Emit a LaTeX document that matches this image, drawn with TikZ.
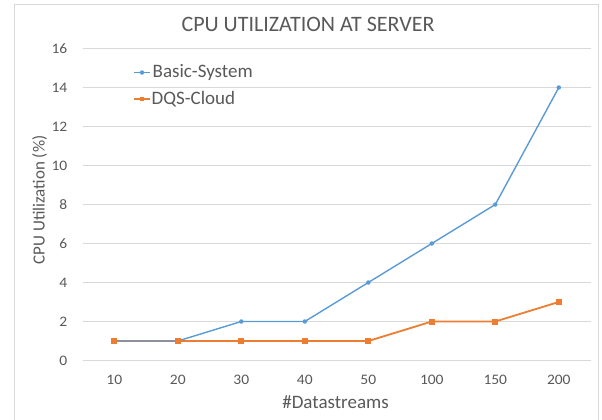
\documentclass[tikz,border=0pt]{standalone}
\usepackage{fontspec}
\setmainfont{Carlito}
\newfontfamily\tickfont[FakeStretch=1.07]{Carlito}
\definecolor{txt}{HTML}{595959}
\definecolor{grid}{HTML}{D9D9D9}
\definecolor{sblue}{HTML}{5B9BD5}
\definecolor{sorange}{HTML}{ED7D31}
\begin{document}
\begin{tikzpicture}[x=1pt,y=-1pt,
  tick/.style={text=txt,font=\tickfont\fontsize{14.5}{16}\selectfont,inner sep=0pt},
  lab/.style={text=txt,inner sep=0pt},
  gridline/.style={draw=grid,line width=1pt},
  bline/.style={draw=sblue,line width=1.4pt},
  oline/.style={draw=sorange,line width=1.8pt},
  bmark/.style={circle,fill=sblue,inner sep=0pt,minimum size=4.5pt},
  omark/.style={rectangle,fill=sorange,inner sep=0pt,minimum size=6pt}]
\useasboundingbox (0,0) rectangle (602,420);
\draw[grid,line width=1pt] (14.5,425) -- (14.5,4.5) -- (598.5,4.5) -- (598.5,425);
% gridlines and y labels
\foreach \v in {0,2,...,16}{
  \draw[gridline] (82.5,{360.5-19.5*\v}) -- (590.5,{360.5-19.5*\v});
  \node[tick,anchor=east] (y\v) at (67.5,{360.5-19.5*\v}) {\v};
}
% x labels
\foreach \lab [count=\i from 0] in {10,20,30,40,50,100,150,200}{
  \node[tick] (x\i) at ({114.3+63.5*\i},379.5) {\lab};
}
\node[lab,font=\fontsize{22}{24}\selectfont,anchor=base] (title) at (308,31.7) {CPU UTILIZATION AT SERVER};
\node[lab,font=\fontsize{19}{21}\selectfont,anchor=base] (xt) at (335.5,408) {\#Datastreams};
\node[lab,font=\fontsize{17}{19}\selectfont,rotate=90,anchor=base] (yt) at (44.5,200) {CPU Utilization (\%)};
% data
\foreach \v [count=\i from 0] in {1,1,2,2,4,6,8,14}{
  \coordinate (b\i) at ({114.3+63.5*\i},{360.5-19.5*\v});
}
\foreach \v [count=\i from 0] in {1,1,1,1,1,2,2,3}{
  \coordinate (o\i) at ({114.3+63.5*\i},{360.5-19.5*\v});
}
\draw[oline] (o0)--(o1)--(o2)--(o3)--(o4)--(o5)--(o6)--(o7);
\draw[bline] (b0)--(b1)--(b2)--(b3)--(b4)--(b5)--(b6)--(b7);
\foreach \i in {0,...,7}{
  \node[bmark] (bm\i) at (b\i) {};
}
\foreach \i in {0,...,7}{
  \node[omark] (om\i) at (o\i) {};
}
% legend
\coordinate (lb1) at (134,72.5); \coordinate (lb2) at (150,72.5);
\draw[bline] (lb1) -- (lb2);
\node[bmark] (lbm) at (142,72.5) {};
\node[lab,font=\fontsize{19}{21}\selectfont,anchor=west] (lbt) at (152.5,72.5) {Basic-System};
\coordinate (lo1) at (134,99); \coordinate (lo2) at (150,99);
\draw[oline] (lo1) -- (lo2);
\node[omark,minimum size=4.5pt] (lom) at (142,99) {};
\node[lab,font=\fontsize{19}{21}\selectfont,anchor=west] (lot) at (151.5,99) {DQS-Cloud};
\end{tikzpicture}
\end{document}
